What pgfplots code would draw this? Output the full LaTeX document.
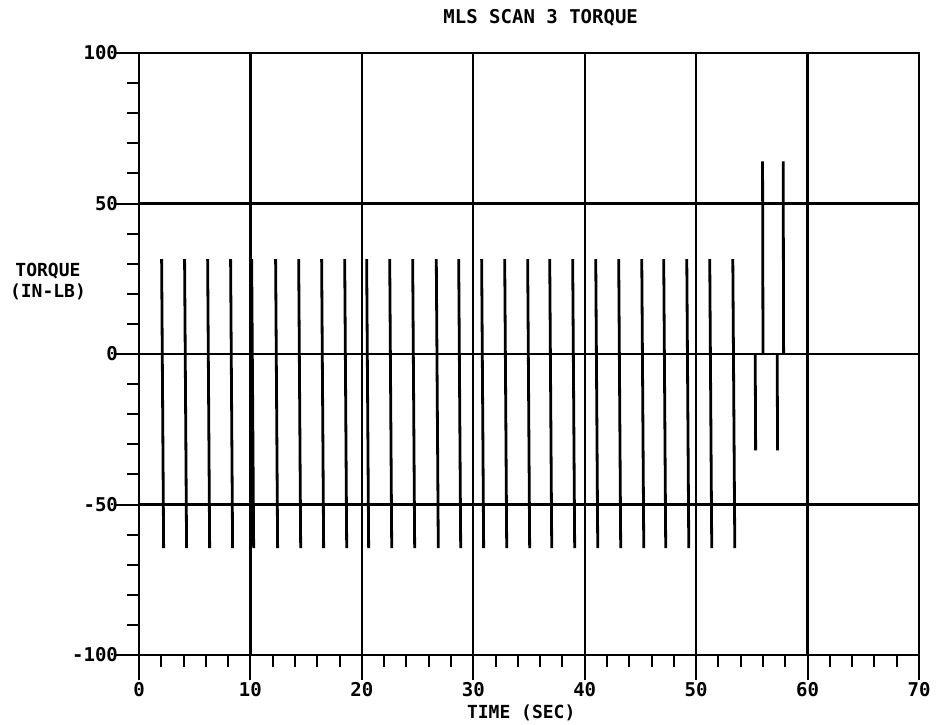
\documentclass[border=0pt]{standalone}
\usepackage{fontspec}
\setmainfont{DejaVu Sans Mono}
\usepackage{pgfplots}
\pgfplotsset{compat=1.18}
\begin{document}
\begin{tikzpicture}
\begin{axis}[
  name=ax,
  scale only axis, width=390pt, height=301pt,
  xmin=0, xmax=70, ymin=-100, ymax=100,
  xtick={0,10,...,70}, ytick={-100,-50,0,50,100},
  minor xtick={2,4,...,68}, minor ytick={-90,-80,...,90},
  grid=major, major grid style={black, line width=1.1pt},
  tick align=outside, tick pos=left,
  major tick length=12.5pt, minor tick length=6pt,
  every tick/.style={black, line width=1pt},
  axis line style={line width=1.3pt},
  font=\bfseries\fontsize{9}{11}\selectfont,
  /pgf/number format/assume math mode=true,
  ticklabel style={font=\bfseries\fontsize{9.5}{11}\selectfont},
  xticklabel style={anchor=center, yshift=-5pt},
  yticklabel style={anchor=east, xshift=5.5pt},
  xlabel={TIME (SEC)},
  xlabel style={at={(axis description cs:0.49,0)}, anchor=center, yshift=-29pt},
  unbounded coords=jump,
  clip=false,
]
\addplot[black, line width=1.4pt] coordinates {
(2.03,31.5)(2.21,-64.5)(nan,nan)
(4.09,31.5)(4.27,-64.5)(nan,nan)
(6.16,31.5)(6.34,-64.5)(nan,nan)
(8.22,31.5)(8.40,-64.5)(nan,nan)
(10.11,31.5)(10.29,-64.5)(nan,nan)
(12.26,31.5)(12.44,-64.5)(nan,nan)
(14.33,31.5)(14.51,-64.5)(nan,nan)
(16.39,31.5)(16.57,-64.5)(nan,nan)
(18.46,31.5)(18.64,-64.5)(nan,nan)
(20.43,31.5)(20.61,-64.5)(nan,nan)
(22.50,31.5)(22.68,-64.5)(nan,nan)
(24.56,31.5)(24.74,-64.5)(nan,nan)
(26.68,31.5)(26.86,-64.5)(nan,nan)
(28.69,31.5)(28.87,-64.5)(nan,nan)
(30.75,31.5)(30.93,-64.5)(nan,nan)
(32.82,31.5)(33.00,-64.5)(nan,nan)
(34.88,31.5)(35.06,-64.5)(nan,nan)
(36.86,31.5)(37.04,-64.5)(nan,nan)
(38.92,31.5)(39.10,-64.5)(nan,nan)
(40.99,31.5)(41.17,-64.5)(nan,nan)
(43.05,31.5)(43.23,-64.5)(nan,nan)
(45.12,31.5)(45.30,-64.5)(nan,nan)
(47.09,31.5)(47.27,-64.5)(nan,nan)
(49.16,31.5)(49.34,-64.5)(nan,nan)
(51.22,31.5)(51.40,-64.5)(nan,nan)
(53.29,31.5)(53.47,-64.5)(nan,nan)
(55.30,0)(55.34,-32)(nan,nan)
(55.96,64)(56.00,0)(nan,nan)
(57.27,0)(57.31,-32)(nan,nan)
(57.81,64)(57.85,0)
};
\node[font=\bfseries\fontsize{9.5}{11}\selectfont, yshift=17.5pt] at (axis description cs:0.515,1) {MLS SCAN 3 TORQUE};
\node[align=center, font=\bfseries\fontsize{9}{10.5}\selectfont, xshift=-45.5pt] at (axis description cs:0,0.62) {TORQUE\\(IN-LB)};
\end{axis}
\pgfresetboundingbox
\path ([shift={(-69.5pt,-34.5pt)}]ax.south west) rectangle ([shift={(9.5pt,26.5pt)}]ax.north east);
\end{tikzpicture}
\end{document}
